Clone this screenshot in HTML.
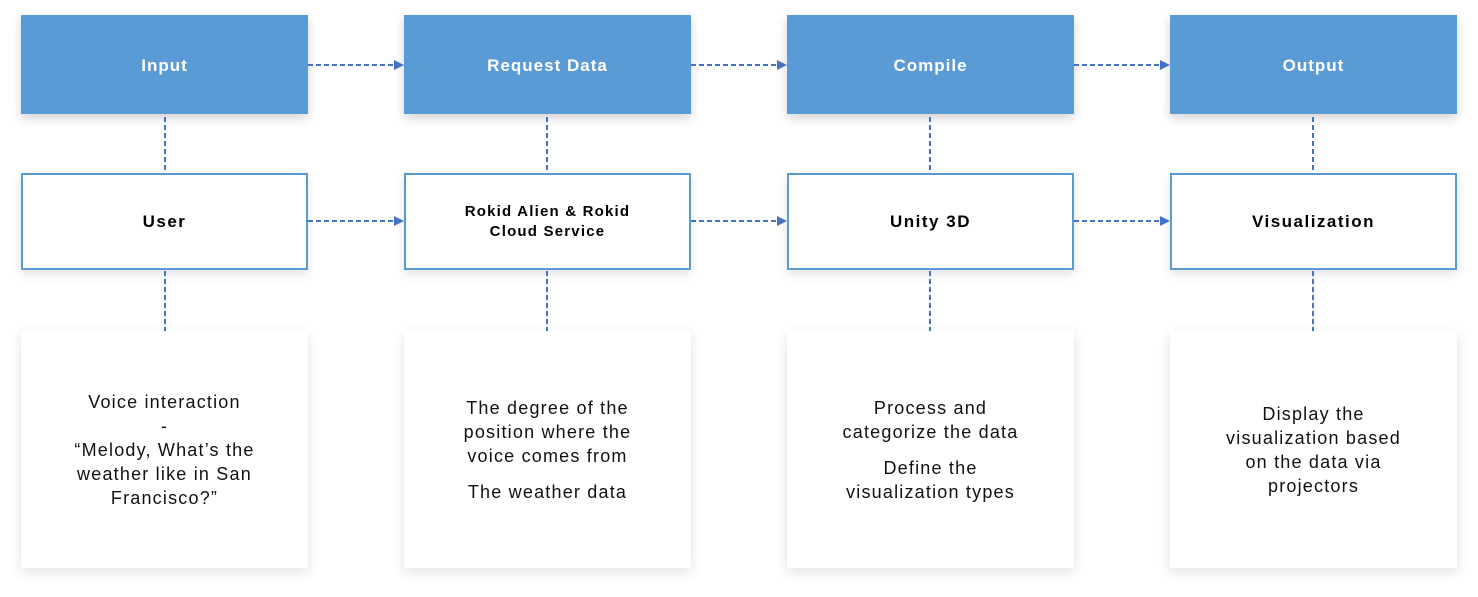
<!DOCTYPE html>
<html><head><style>
body{margin:0;width:1478px;height:597px;background:#fff;position:relative;font-family:"Liberation Sans",sans-serif;overflow:hidden}
.b{position:absolute;width:287px;display:flex;align-items:center;justify-content:center;text-align:center;box-sizing:border-box}
.t{top:15px;height:99px;padding-top:2px;background:#5b9bd5;color:#fff;font-size:17px;font-weight:bold;letter-spacing:1px;box-shadow:0 4px 10px rgba(0,0,0,0.18)}
.m{top:173px;height:97px;border:2px solid #5b9bd5;background:#fff;color:#000;font-size:17px;font-weight:bold;letter-spacing:1.5px;box-shadow:0 4px 10px rgba(0,0,0,0.12)}
.m.s{font-size:15px;line-height:20px;letter-spacing:1.2px}
.l{top:331px;height:237px;background:#fff;color:#111;font-size:18px;letter-spacing:1.2px;line-height:24px;box-shadow:0 4px 12px rgba(0,0,0,0.12)}
svg{position:absolute;left:0;top:0}
p{margin:0}
</style></head><body>
<div class="b t" style="left:21px">Input</div>
<div class="b t" style="left:404px">Request Data</div>
<div class="b t" style="left:787px">Compile</div>
<div class="b t" style="left:1170px">Output</div>
<div class="b m" style="left:21px">User</div>
<div class="b m s" style="left:404px">Rokid Alien &amp; Rokid<br>Cloud Service</div>
<div class="b m" style="left:787px">Unity 3D</div>
<div class="b m" style="left:1170px">Visualization</div>
<div class="b l" style="left:21px"><div>Voice interaction<br>-<br>“Melody, What’s the<br>weather like in San<br>Francisco?”</div></div>
<div class="b l" style="left:404px"><div><p>The degree of the<br>position where the<br>voice comes from</p><p style="margin-top:12px">The weather data</p></div></div>
<div class="b l" style="left:787px"><div><p>Process and<br>categorize the data</p><p style="margin-top:12px">Define the<br>visualization types</p></div></div>
<div class="b l" style="left:1170px"><div>Display the<br>visualization based<br>on the data via<br>projectors</div></div>
<svg width="1478" height="597">
<defs><marker id="a" markerWidth="10" markerHeight="10" refX="9" refY="5" orient="auto" markerUnits="userSpaceOnUse"><path d="M0,0L10,5L0,10z" fill="#4472c4"/></marker></defs>
<g stroke="#4472c4" stroke-width="2" stroke-dasharray="5,3" fill="none">
<line x1="308" y1="65" x2="403" y2="65" marker-end="url(#a)"/>
<line x1="691" y1="65" x2="786" y2="65" marker-end="url(#a)"/>
<line x1="1074" y1="65" x2="1169" y2="65" marker-end="url(#a)"/>
<line x1="308" y1="221" x2="403" y2="221" marker-end="url(#a)"/>
<line x1="691" y1="221" x2="786" y2="221" marker-end="url(#a)"/>
<line x1="1074" y1="221" x2="1169" y2="221" marker-end="url(#a)"/>
<line x1="165" y1="117" x2="165" y2="172"/><line x1="165" y1="271" x2="165" y2="331"/>
<line x1="547" y1="117" x2="547" y2="172"/><line x1="547" y1="271" x2="547" y2="331"/>
<line x1="930" y1="117" x2="930" y2="172"/><line x1="930" y1="271" x2="930" y2="331"/>
<line x1="1313" y1="117" x2="1313" y2="172"/><line x1="1313" y1="271" x2="1313" y2="331"/>
</g></svg>
</body></html>
